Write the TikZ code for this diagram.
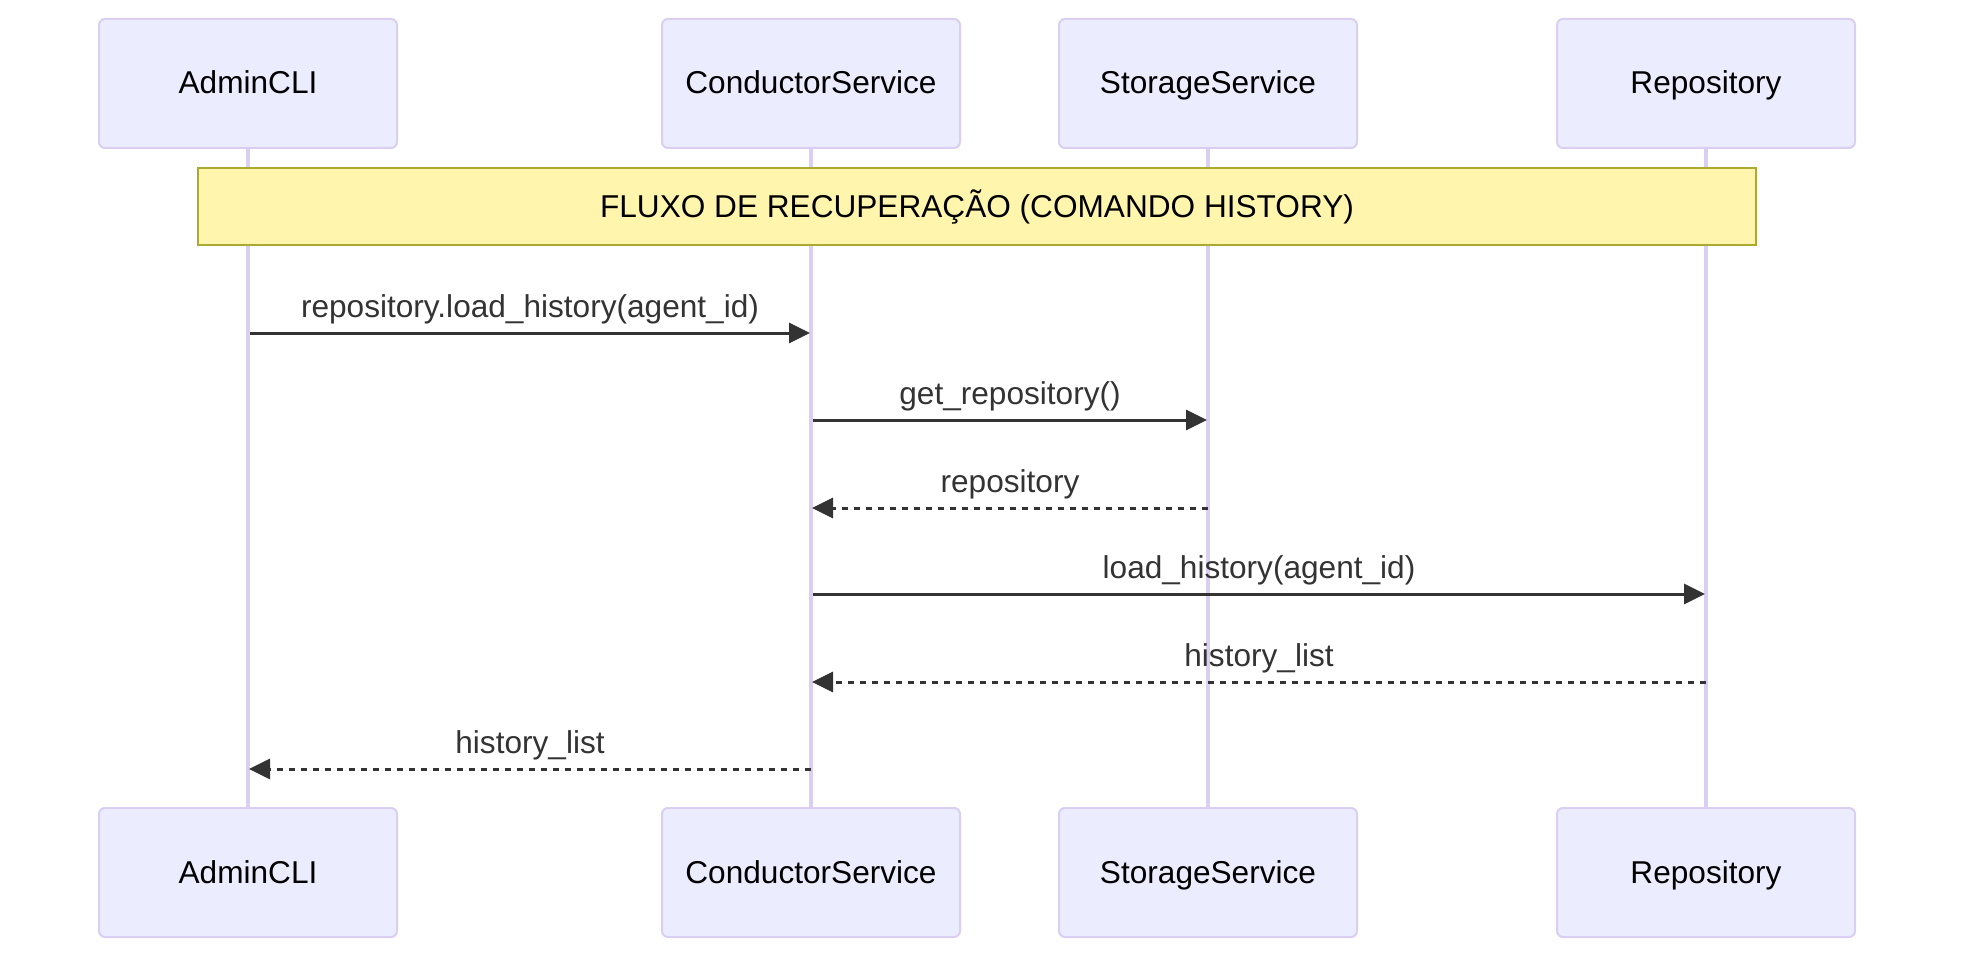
\documentclass[tikz,border=0pt]{standalone}
\usepackage{fontspec}
\setmainfont{Liberation Sans}
\usetikzlibrary{arrows.meta}
\definecolor{actfill}{HTML}{ECECFF}
\definecolor{actline}{HTML}{DACEF3}
\definecolor{notefill}{HTML}{FFF5AD}
\definecolor{noteline}{HTML}{AAAA33}
\definecolor{msg}{HTML}{333333}
\begin{document}
\begin{tikzpicture}[x=0.5pt,y=-0.5pt,
  txt/.style={font=\fontsize{15.8}{19}\selectfont},
  actor/.style={txt, draw=actline, fill=actfill, line width=1pt, rounded corners=3pt,
    minimum width=149pt, minimum height=64.5pt, inner sep=0pt, text=black,
    text height=11.5pt, text depth=1pt},
  life/.style={draw=actline, line width=1.6pt},
  note/.style={txt, draw=noteline, fill=notefill, line width=1pt,
    minimum width=779pt, minimum height=38.5pt, inner sep=0pt, text=black,
    text height=11.5pt, text depth=1pt},
  call/.style={draw=msg, line width=1.5pt, -{Triangle[length=10.5pt,width=10pt]}},
  reply/.style={call, dash pattern=on 3pt off 3pt},
  lbl/.style={txt, text=msg, anchor=base, inner sep=0pt, yshift=7.6pt}]
\useasboundingbox (0,0) rectangle (1970,968);

% actors
\node[actor] (aT) at (248,83.5) {AdminCLI};
\node[actor] (cT) at (811,83.5) {ConductorService};
\node[actor] (sT) at (1208,83.5) {StorageService};
\node[actor] (rT) at (1706,83.5) {Repository};
\node[actor] (aB) at (248,872.5) {AdminCLI};
\node[actor] (cB) at (811,872.5) {ConductorService};
\node[actor] (sB) at (1208,872.5) {StorageService};
\node[actor] (rB) at (1706,872.5) {Repository};

% lifelines
\draw[life] (aT.south) -- (aB.north);
\draw[life] (cT.south) -- (cB.north);
\draw[life] (sT.south) -- (sB.north);
\draw[life] (rT.south) -- (rB.north);

% note
\node[note] (nt) at (977,207) {FLUXO DE RECUPERAÇÃO (COMANDO HISTORY)};

% message end points
\coordinate (m1a) at (250,333);   \coordinate (m1b) at (810,333);
\coordinate (m2a) at (813,420);   \coordinate (m2b) at (1207,420);
\coordinate (m3a) at (1208,508);  \coordinate (m3b) at (812,508);
\coordinate (m4a) at (813,594);   \coordinate (m4b) at (1705,594);
\coordinate (m5a) at (1706,682);  \coordinate (m5b) at (812,682);
\coordinate (m6a) at (811,769);   \coordinate (m6b) at (249,769);

\draw[call]  (m1a) -- node[lbl] {repository.load\_history(agent\_id)} (m1b);
\draw[call]  (m2a) -- node[lbl] {get\_repository()} (m2b);
\draw[reply] (m3a) -- node[lbl] {repository} (m3b);
\draw[call]  (m4a) -- node[lbl] {load\_history(agent\_id)} (m4b);
\draw[reply] (m5a) -- node[lbl] {history\_list} (m5b);
\draw[reply] (m6a) -- node[lbl] {history\_list} (m6b);
\end{tikzpicture}
\end{document}
